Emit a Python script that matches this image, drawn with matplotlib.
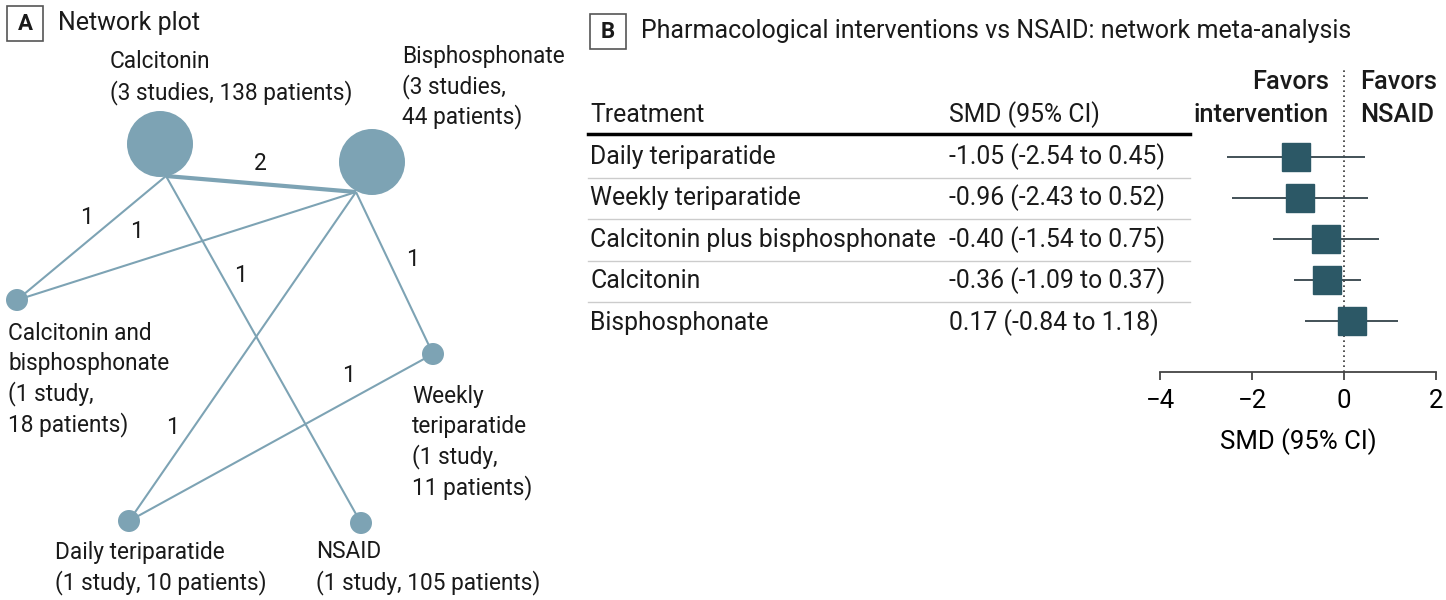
import matplotlib

matplotlib.use("Agg")
import matplotlib.pyplot as plt
from matplotlib.patches import Circle, Rectangle

# ---- data -----------------------------------------------------------------
# Panel A: network of direct comparisons
NODES = ["Calcitonin", "Bisphosphonate", "Calcitonin and bisphosphonate",
         "Weekly teriparatide", "Daily teriparatide", "NSAID"]
N_STUDIES = [3, 3, 1, 1, 1, 1]
N_PATIENTS = [138, 44, 18, 11, 10, 105]
# (node a, node b, number of studies comparing them)
EDGES = [(0, 1, 2), (0, 2, 1), (1, 2, 1), (0, 5, 1), (1, 3, 1), (1, 4, 1), (3, 4, 1)]

# Panel B: SMD vs NSAID
TREATMENTS = ["Daily teriparatide", "Weekly teriparatide",
              "Calcitonin plus bisphosphonate", "Calcitonin", "Bisphosphonate"]
SMD = [-1.05, -0.96, -0.40, -0.36, 0.17]
SMD_LO = [-2.54, -2.43, -1.54, -1.09, -0.84]
SMD_HI = [0.45, 0.52, 0.75, 0.37, 1.18]
X_TICKS = [-4, -2, 0, 2]

# ---- layout (pixel coordinates on a 1446 x 600 canvas) ----------------------
NODE_XY = [(160, 144), (372, 162), (17, 300), (433, 354), (129, 521), (361, 523)]
ANCHOR_XY = [(166, 176), (356, 192), (17, 300), (433, 354), (129, 521), (361, 523)]
NODE_LABELS = ["Calcitonin", "Bisphosphonate", "Calcitonin and\nbisphosphonate",
               "Weekly\nteriparatide", "Daily teriparatide", "NSAID"]
SPLIT_COUNTS = [False, True, True, True, False, False]
LABEL_XY = [(110, 62), (402, 56), (8, 333), (412, 396), (55, 552), (316, 552)]
EDGE_LABEL_XY = [(260, 164), (86, 217), (136, 231), (240, 275), (412, 260),
                 (172, 427), (348, 375)]
ROW_Y = [157, 198, 240, 281, 323]
LINE_STEP = 30.5
R_PER_STUDY = 11

NODE_COLOR = "#7da3b4"
BOX_COLOR = "#2c5866"
CI_COLOR = "#34434a"
TEXT_COLOR = "#1a1a1a"

plt.rcParams["font.family"] = ["Roboto", "DejaVu Sans"]
plt.rcParams["text.color"] = TEXT_COLOR

fig = plt.figure(figsize=(14.46, 6.0), dpi=100)
canvas = fig.add_axes([0, 0, 1, 1])
canvas.set_xlim(0, 1446)
canvas.set_ylim(600, 0)
canvas.axis("off")


def lines_at(x, y, lines, size, **kw):
    for i, s in enumerate(lines):
        canvas.text(x, y + i * LINE_STEP, s, fontsize=size, va="center", ha="left", **kw)


def panel_tag(x0, y0, letter, title):
    canvas.add_patch(Rectangle((x0, y0), 36, 35, fill=False, ec="#555555", lw=1.2))
    canvas.text(x0 + 18, y0 + 18, letter, fontsize=16, fontweight="bold",
                ha="center", va="center")
    canvas.text(x0 + 51, y0 + 17, title, fontsize=18, ha="left", va="center")


# ---- Panel A: network plot -------------------------------------------------
panel_tag(7, 6, "A", "Network plot")

for (a, b, n), (lx, ly) in zip(EDGES, EDGE_LABEL_XY):
    (x1, y1), (x2, y2) = ANCHOR_XY[a], ANCHOR_XY[b]
    canvas.plot([x1, x2], [y1, y2], color=NODE_COLOR, lw=1.5 * n, zorder=1,
                solid_capstyle="butt")
    canvas.text(lx, ly, str(n), fontsize=16.5, ha="center", va="center")

for i, node in enumerate(NODES):
    canvas.add_patch(Circle(NODE_XY[i], R_PER_STUDY * N_STUDIES[i],
                            color=NODE_COLOR, zorder=2, lw=0))
    s = N_STUDIES[i]
    study = f"({s} {'study' if s == 1 else 'studies'},"
    pats = f"{N_PATIENTS[i]} patients)"
    count = [study, pats] if SPLIT_COUNTS[i] else [f"{study} {pats}"]
    lines_at(*LABEL_XY[i], NODE_LABELS[i].split("\n") + count, 16.3)

# ---- Panel B: table --------------------------------------------------------
panel_tag(590, 14, "B", "Pharmacological interventions vs NSAID: network meta-analysis")

FS = 17.8
HEAD = dict(fontsize=18.3, fontweight="medium", va="center")
canvas.text(590, 115, "Treatment", fontsize=FS, ha="left", va="center")
canvas.text(949, 115, "SMD (95% CI)", fontsize=FS, ha="left", va="center")
canvas.text(1329, 82, "Favors", ha="right", **HEAD)
canvas.text(1329, 115, "intervention", ha="right", **HEAD)
canvas.text(1360, 82, "Favors", ha="left", **HEAD)
canvas.text(1360, 115, "NSAID", ha="left", **HEAD)
canvas.plot([588, 1190], [134, 134], color="black", lw=2.5)

for i, (t, m, lo, hi) in enumerate(zip(TREATMENTS, SMD, SMD_LO, SMD_HI)):
    y = ROW_Y[i]
    canvas.text(590, y, t, fontsize=FS, ha="left", va="center")
    canvas.text(949, y, f"{m:.2f} ({lo:.2f} to {hi:.2f})", fontsize=FS,
                ha="left", va="center")
    if i < len(TREATMENTS) - 1:
        ys = (ROW_Y[i] + ROW_Y[i + 1]) / 2
        canvas.plot([588, 1190], [ys, ys], color="#cccccc", lw=1)

# ---- Panel B: forest plot --------------------------------------------------
top_px, bot_px = 68, 372
ax = fig.add_axes([1160 / 1446, (600 - bot_px) / 600, 276 / 1446,
                   (bot_px - top_px) / 600])
ax.patch.set_alpha(0)
row_px = ROW_Y[1] - ROW_Y[0]
ax.set_ylim((bot_px - ROW_Y[0]) / row_px, (top_px - ROW_Y[0]) / row_px)
ax.set_xlim(X_TICKS[0], X_TICKS[-1])
rows = list(range(len(TREATMENTS)))
ax.hlines(rows, SMD_LO, SMD_HI, color=CI_COLOR, lw=1.3, zorder=2)
ax.plot(SMD, rows, ls="none", marker="s", ms=20, color=BOX_COLOR,
        mec=BOX_COLOR, zorder=3)
ax.axvline(0, color="#333333", lw=1.2, ls=(0, (1, 2)), zorder=1)
for side in ("top", "right", "left"):
    ax.spines[side].set_visible(False)
ax.spines["bottom"].set_color("#444444")
ax.spines["bottom"].set_linewidth(1.3)
ax.set_yticks([])
ax.set_xticks(X_TICKS)
ax.set_xticklabels([f"{t:d}".replace("-", "\u2212") for t in X_TICKS])
ax.tick_params(axis="x", length=6, width=1.3, color="#444444", labelsize=18.5,
               pad=6)
ax.set_xlabel("SMD (95% CI)", fontsize=18.5, labelpad=11)

fig.savefig("out.png", dpi=100)
